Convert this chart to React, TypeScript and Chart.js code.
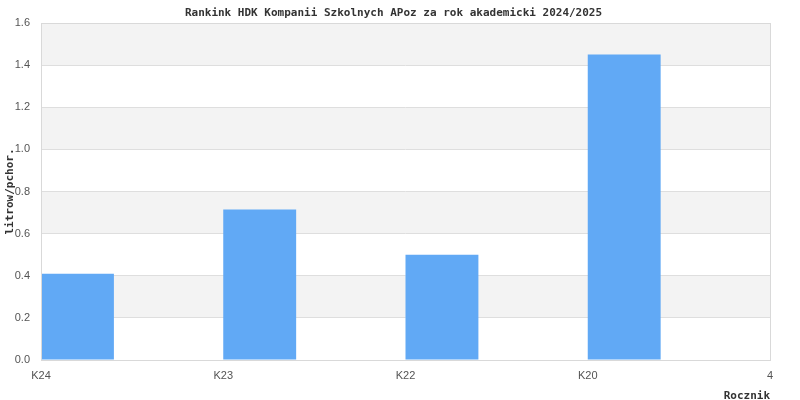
import React, { useEffect, useRef } from "react";
import { Chart, registerables } from "chart.js";

Chart.register(...registerables);

const TITLE = "Rankink HDK Kompanii Szkolnych APoz za rok akademicki 2024/2025";
const Y_TITLE = "litrow/pchor.";
const X_TITLE = "Rocznik";
const categories = ["K24", "K23", "K22", "K20"];
const values = [0.41, 0.715, 0.5, 1.45];
const xTickLabels = ["K24", "K23", "K22", "K20", "4"];
const BAR_WIDTH_UNITS = 0.4;

const MONO = "'DejaVu Sans Mono', monospace";
const SANS = "'Liberation Sans', Arial, sans-serif";

const decorPlugin = {
  id: "decor",
  beforeDraw(chart: any) {
    const { ctx, chartArea, scales } = chart;
    const y = scales.y;
    ctx.save();
    ctx.fillStyle = "#f3f3f3";
    for (let v = 0.2; v < 1.6; v += 0.4) {
      const top = y.getPixelForValue(v + 0.2);
      const bot = y.getPixelForValue(v);
      ctx.fillRect(chartArea.left, top, chartArea.right - chartArea.left, bot - top);
    }
    ctx.restore();
  },
  afterDraw(chart: any) {
    const { ctx, chartArea } = chart;
    ctx.save();
    ctx.strokeStyle = "#d9d9d9";
    ctx.lineWidth = 1;
    ctx.strokeRect(Math.round(chartArea.left) + 0.5, Math.round(chartArea.top) + 0.5,
      Math.round(chartArea.right - chartArea.left), Math.round(chartArea.bottom - chartArea.top));
    ctx.fillStyle = "#333";
    ctx.font = `bold 11px ${MONO}`;
    ctx.textAlign = "center";
    ctx.textBaseline = "middle";
    ctx.fillText(TITLE, (chartArea.left + chartArea.right) / 2 - 12, 13);
    ctx.textAlign = "right";
    ctx.fillText(X_TITLE, chartArea.right, 396);
    ctx.translate(10, (chartArea.top + chartArea.bottom) / 2);
    ctx.rotate(-Math.PI / 2);
    ctx.textAlign = "center";
    ctx.fillText(Y_TITLE, 0, 0);
    ctx.restore();
  },
};

export default function App() {
  const ref = useRef<HTMLCanvasElement>(null);
  useEffect(() => {
    if (!ref.current) return;
    const chart = new Chart(ref.current, {
      type: "bar",
      data: {
        datasets: [
          {
            label: "litrow/pchor.",
            data: values.map((v, i) => ({ x: i + BAR_WIDTH_UNITS / 2, y: v })),
            backgroundColor: "#61a9f5",
            borderWidth: 0,
            categoryPercentage: 1,
            barPercentage: BAR_WIDTH_UNITS,
          },
        ],
      },
      options: {
        animation: false,
        responsive: true,
        maintainAspectRatio: false,
        layout: { padding: { top: 23, right: 30, left: 0, bottom: 0 } },
        plugins: { legend: { display: false }, tooltip: { enabled: false }, title: { display: false } },
        scales: {
          x: {
            type: "linear",
            min: 0,
            max: xTickLabels.length - 1,
            offset: false,
            grid: { display: false, drawTicks: false },
            border: { display: false },
            afterFit: (s: any) => { s.height = 40; },
            afterBuildTicks: (s: any) => { s.ticks = xTickLabels.map((_, i) => ({ value: i })); },
            ticks: {
              padding: 9,
              color: "#545454",
              font: { family: SANS, size: 11 },
              maxRotation: 0,
              autoSkip: false,
              callback: (v: any) => xTickLabels[Math.round(Number(v))] ?? "",
            },
          },
          y: {
            min: 0,
            max: 1.6,
            grid: { color: "#dedede", drawTicks: false },
            border: { display: false },
            afterFit: (s: any) => { s.width = 41; },
            ticks: {
              stepSize: 0.2,
              padding: 11,
              color: "#545454",
              font: { family: SANS, size: 11 },
              callback: (v: any) => Number(v).toFixed(1),
            },
          },
        },
      },
      plugins: [decorPlugin],
    });
    return () => chart.destroy();
  }, []);
  return (
    <div style={{ position: "fixed", left: 0, top: 0, width: 800, height: 400, background: "#fff" }}>
      <canvas ref={ref} />
    </div>
  );
}
